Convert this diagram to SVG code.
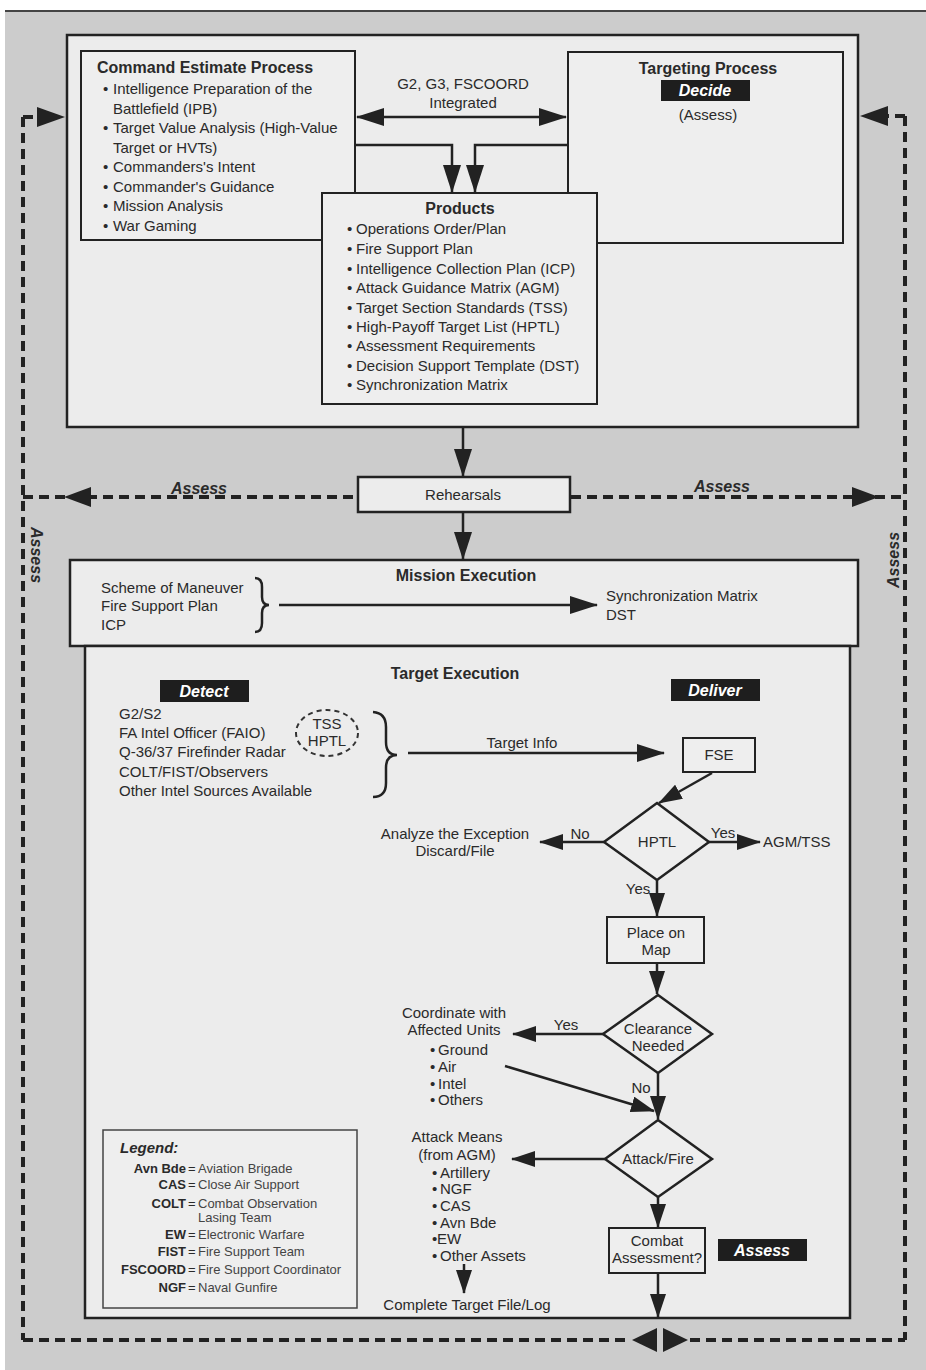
<svg xmlns="http://www.w3.org/2000/svg" width="926" height="1370" viewBox="0 0 926 1370">
<style>
text{font-family:"Liberation Sans",Arial,sans-serif;fill:#2a2a2a;font-size:15px}
.t{font-weight:bold;font-size:16px}
.c{text-anchor:middle}
.inv{fill:#fff;font-weight:bold;font-style:italic;font-size:16px;text-anchor:middle}
.as{font-weight:bold;font-style:italic;font-size:16px;text-anchor:middle}
.box{fill:#ececec;stroke:#222;stroke-width:2.5}
.ibox{fill:#eeeeee;stroke:#222;stroke-width:2}
.blk{fill:#1e1e1e}
.ln{fill:none;stroke:#222;stroke-width:2.5}
.dash{fill:none;stroke:#222;stroke-width:4;stroke-dasharray:10 6}
.lg{font-size:13px}
.lgb{font-size:13px;font-weight:bold;text-anchor:end}
.lgd{font-size:13px;fill:#444}
</style>
<defs>
<marker id="big" viewBox="0 0 28 18" refX="27" refY="9" markerWidth="28" markerHeight="18" markerUnits="userSpaceOnUse" orient="auto-start-reverse"><path d="M0,0 L28,9 L0,18 z" fill="#222"/></marker>
<marker id="med" viewBox="0 0 24 16" refX="23" refY="8" markerWidth="24" markerHeight="16" markerUnits="userSpaceOnUse" orient="auto-start-reverse"><path d="M0,0 L24,8 L0,16 z" fill="#222"/></marker>
<marker id="sm" viewBox="0 0 18 14" refX="17" refY="7" markerWidth="18" markerHeight="14" markerUnits="userSpaceOnUse" orient="auto-start-reverse"><path d="M0,0 L18,7 L0,14 z" fill="#222"/></marker>
</defs>

<rect x="0" y="0" width="926" height="1370" fill="#ffffff"/>
<rect x="5" y="11" width="921" height="1359" fill="#cccccc"/>
<line x1="5" y1="11" x2="926" y2="11" stroke="#444" stroke-width="2"/>

<!-- outer planning box -->
<g id="planning">
<rect class="box" x="67" y="35" width="791" height="392" stroke-width="3"/>
</g>

<g id="command-estimate">
<rect class="ibox" x="81" y="51" width="274" height="189"/>
<text class="t" x="97" y="73">Command Estimate Process</text>
<text x="103" y="94">•</text><text x="113" y="94">Intelligence Preparation of the</text>
<text x="113" y="114">Battlefield (IPB)</text>
<text x="103" y="133">•</text><text x="113" y="133">Target Value Analysis (High-Value</text>
<text x="113" y="153">Target or HVTs)</text>
<text x="103" y="172">•</text><text x="113" y="172">Commanders's Intent</text>
<text x="103" y="192">•</text><text x="113" y="192">Commander's Guidance</text>
<text x="103" y="211">•</text><text x="113" y="211">Mission Analysis</text>
<text x="103" y="231">•</text><text x="113" y="231">War Gaming</text>
</g>

<g id="targeting-process">
<rect class="ibox" x="568" y="52" width="275" height="191"/>
<text class="t c" x="708" y="74">Targeting Process</text>
<rect class="blk" x="661" y="80" width="89" height="21"/>
<text class="inv" x="705" y="96">Decide</text>
<text class="c" x="708" y="120">(Assess)</text>
</g>

<g id="products">
<rect class="ibox" x="322" y="193" width="275" height="211"/>
<text class="t c" x="460" y="214">Products</text>
<text x="347" y="234">•</text><text x="356" y="234">Operations Order/Plan</text>
<text x="347" y="254">•</text><text x="356" y="254">Fire Support Plan</text>
<text x="347" y="274">•</text><text x="356" y="274">Intelligence Collection Plan (ICP)</text>
<text x="347" y="293">•</text><text x="356" y="293">Attack Guidance Matrix (AGM)</text>
<text x="347" y="313">•</text><text x="356" y="313">Target Section Standards (TSS)</text>
<text x="347" y="332">•</text><text x="356" y="332">High-Payoff Target List (HPTL)</text>
<text x="347" y="351">•</text><text x="356" y="351">Assessment Requirements</text>
<text x="347" y="371">•</text><text x="356" y="371">Decision Support Template (DST)</text>
<text x="347" y="390">•</text><text x="356" y="390">Synchronization Matrix</text>
</g>

<g id="integration-label">
<text class="c" x="463" y="89">G2, G3, FSCOORD</text>
<text class="c" x="463" y="108">Integrated</text>
</g>

<g id="rehearsals">
<rect class="box" x="358" y="477" width="212" height="35" stroke-width="3"/>
<text class="c" x="463" y="500" font-size="16">Rehearsals</text>
</g>

<g id="mission-execution">
<rect class="box" x="70" y="560" width="788" height="86" stroke-width="3"/>
<text class="t c" x="466" y="581">Mission Execution</text>
<text x="101" y="593">Scheme of Maneuver</text>
<text x="101" y="611">Fire Support Plan</text>
<text x="101" y="630">ICP</text>
<text x="606" y="601">Synchronization Matrix</text>
<text x="606" y="620">DST</text>
</g>

<g id="target-execution">
<rect class="box" x="85" y="646" width="765" height="672" stroke-width="3"/>
<text class="t c" x="455" y="679">Target Execution</text>
<rect class="blk" x="160" y="680" width="89" height="22"/>
<text class="inv" x="204" y="697">Detect</text>
<rect class="blk" x="671" y="679" width="89" height="22"/>
<text class="inv" x="715" y="696">Deliver</text>
<text x="119" y="719">G2/S2</text>
<text x="119" y="738">FA Intel Officer (FAIO)</text>
<text x="119" y="757">Q-36/37 Firefinder Radar</text>
<text x="119" y="777">COLT/FIST/Observers</text>
<text x="119" y="796">Other Intel Sources Available</text>
</g>

<g id="tss-hptl">
<ellipse cx="327" cy="733" rx="31" ry="23" fill="none" stroke="#333" stroke-width="2" stroke-dasharray="5 4"/>
<text class="c" x="327" y="729">TSS</text>
<text class="c" x="327" y="746">HPTL</text>
</g>

<g id="fse">
<rect class="ibox" x="683" y="738" width="72" height="34"/>
<text class="c" x="719" y="760">FSE</text>
</g>

<g id="hptl-decision">
<polygon points="657,803 709,842 657,880 604,842" fill="#eeeeee" stroke="#222" stroke-width="2.5"/>
<text class="c" x="657" y="847">HPTL</text>
</g>

<g id="analyze-exception">
<text class="c" x="455" y="839">Analyze the Exception</text>
<text class="c" x="455" y="856">Discard/File</text>
</g>

<g id="agm-tss"><text x="763" y="847">AGM/TSS</text></g>

<g id="place-on-map">
<rect class="ibox" x="607" y="917" width="97" height="46"/>
<text class="c" x="656" y="938">Place on</text>
<text class="c" x="656" y="955">Map</text>
</g>

<g id="clearance-decision">
<polygon points="658,995 712,1034 658,1073 603,1034" fill="#eeeeee" stroke="#222" stroke-width="2.5"/>
<text class="c" x="658" y="1034">Clearance</text>
<text class="c" x="658" y="1051">Needed</text>
</g>

<g id="coordinate">
<text class="c" x="454" y="1018">Coordinate with</text>
<text class="c" x="454" y="1035">Affected Units</text>
<text x="430" y="1055">•</text><text x="438" y="1055">Ground</text>
<text x="430" y="1072">•</text><text x="438" y="1072">Air</text>
<text x="430" y="1089">•</text><text x="438" y="1089">Intel</text>
<text x="430" y="1105">•</text><text x="438" y="1105">Others</text>
</g>

<g id="attack-decision">
<polygon points="658,1120 712,1159 658,1197 605,1159" fill="#eeeeee" stroke="#222" stroke-width="2.5"/>
<text class="c" x="658" y="1164">Attack/Fire</text>
</g>

<g id="attack-means">
<text class="c" x="457" y="1142">Attack Means</text>
<text class="c" x="457" y="1160">(from AGM)</text>
<text x="432" y="1178">•</text><text x="440" y="1178">Artillery</text>
<text x="432" y="1194">•</text><text x="440" y="1194">NGF</text>
<text x="432" y="1211">•</text><text x="440" y="1211">CAS</text>
<text x="432" y="1228">•</text><text x="440" y="1228">Avn Bde</text>
<text x="432" y="1244">•</text><text x="437" y="1244">EW</text>
<text x="432" y="1261">•</text><text x="440" y="1261">Other Assets</text>
</g>

<g id="complete-target"><text class="c" x="467" y="1310">Complete Target File/Log</text></g>

<g id="combat-assessment">
<rect class="ibox" x="609" y="1228" width="96" height="45"/>
<text class="c" x="657" y="1246">Combat</text>
<text class="c" x="657" y="1263">Assessment?</text>
<rect class="blk" x="718" y="1239" width="89" height="22"/>
<text class="inv" x="762" y="1256">Assess</text>
</g>

<g id="legend">
<rect x="103" y="1130" width="254" height="178" fill="#eeeeee" stroke="#444" stroke-width="1.5"/>
<text x="120" y="1153" font-weight="bold" font-style="italic">Legend:</text>
<text class="lgb" x="186" y="1173">Avn Bde</text><text class="lg" x="188" y="1173">=</text><text class="lgd" x="198" y="1173">Aviation Brigade</text>
<text class="lgb" x="186" y="1189">CAS</text><text class="lg" x="188" y="1189">=</text><text class="lgd" x="198" y="1189">Close Air Support</text>
<text class="lgb" x="186" y="1208">COLT</text><text class="lg" x="188" y="1208">=</text><text class="lgd" x="198" y="1208">Combat Observation</text>
<text class="lgd" x="198" y="1222">Lasing Team</text>
<text class="lgb" x="186" y="1239">EW</text><text class="lg" x="188" y="1239">=</text><text class="lgd" x="198" y="1239">Electronic Warfare</text>
<text class="lgb" x="186" y="1256">FIST</text><text class="lg" x="188" y="1256">=</text><text class="lgd" x="198" y="1256">Fire Support Team</text>
<text class="lgb" x="186" y="1274">FSCOORD</text><text class="lg" x="188" y="1274">=</text><text class="lgd" x="198" y="1274">Fire Support Coordinator</text>
<text class="lgb" x="186" y="1292">NGF</text><text class="lg" x="188" y="1292">=</text><text class="lgd" x="198" y="1292">Naval Gunfire</text>
</g>

<g id="connectors">
<!-- planning -->
<line class="ln" x1="357" y1="117" x2="566" y2="117" stroke-width="3" marker-start="url(#big)" marker-end="url(#big)"/>
<path class="ln" d="M355,145 H452 V192" stroke-width="3" marker-end="url(#big)"/>
<path class="ln" d="M568,145 H475 V192" stroke-width="3" marker-end="url(#big)"/>
<line class="ln" x1="463" y1="428" x2="463" y2="476" marker-end="url(#big)"/>
<line class="ln" x1="463" y1="513" x2="463" y2="559" marker-end="url(#big)"/>
<!-- mission -->
<path class="ln" d="M255,578 Q262,578 262,587 L262,597 Q262,605 269,605 Q262,605 262,613 L262,623 Q262,632 255,632"/>
<line class="ln" x1="279" y1="605" x2="597" y2="605" marker-end="url(#big)"/>
<!-- target execution -->
<path class="ln" stroke-width="3" d="M373,712 Q386,713 386,727 L386,742 Q386,755 397,755 Q386,755 386,768 L386,783 Q386,797 373,797"/>
<line class="ln" x1="408" y1="753" x2="664" y2="753" marker-end="url(#big)"/>
<text class="c" x="522" y="748">Target Info</text>
<line class="ln" x1="712" y1="773" x2="659" y2="803" marker-end="url(#med)"/>
<line class="ln" x1="604" y1="842" x2="540" y2="842" marker-end="url(#med)"/>
<text class="c" x="580" y="839">No</text>
<line class="ln" x1="709" y1="842" x2="760" y2="842" marker-end="url(#med)"/>
<text class="c" x="723" y="838">Yes</text>
<line class="ln" x1="657" y1="880" x2="657" y2="916" marker-end="url(#med)"/>
<text class="c" x="638" y="894">Yes</text>
<line class="ln" x1="657" y1="963" x2="657" y2="994" marker-end="url(#med)"/>
<line class="ln" x1="603" y1="1034" x2="513" y2="1034" marker-end="url(#med)"/>
<text class="c" x="566" y="1030">Yes</text>
<line class="ln" x1="505" y1="1066" x2="654" y2="1111" stroke-width="2" marker-end="url(#med)"/>
<line class="ln" x1="658" y1="1073" x2="658" y2="1119" marker-end="url(#med)"/>
<text class="c" x="641" y="1093">No</text>
<line class="ln" x1="605" y1="1159" x2="512" y2="1159" marker-end="url(#med)"/>
<line class="ln" x1="464" y1="1264" x2="464" y2="1293" marker-end="url(#med)"/>
<line class="ln" x1="658" y1="1197" x2="658" y2="1227" marker-end="url(#med)"/>
<line class="ln" x1="658" y1="1273" x2="658" y2="1317" marker-end="url(#med)"/>
<!-- assess feedback loop -->
<line class="dash" x1="23" y1="117" x2="23" y2="1340"/>
<line class="dash" x1="905" y1="116" x2="905" y2="1340"/>
<line class="dash" x1="23" y1="117" x2="40" y2="117"/>
<polygon points="37,107 65,117 37,127" fill="#222"/>
<line class="dash" x1="905" y1="116" x2="886" y2="116"/>
<polygon points="888,106 860,116 888,126" fill="#222"/>
<line class="dash" x1="23" y1="497" x2="357" y2="497"/>
<polygon points="91,487 64,497 91,507" fill="#222"/>
<line class="dash" x1="571" y1="497" x2="905" y2="497"/>
<polygon points="852,487 879,497 852,507" fill="#222"/>
<text class="as" x="199" y="494">Assess</text>
<text class="as" x="722" y="492">Assess</text>
<text class="as" transform="translate(31,555) rotate(90)" x="0" y="0">Assess</text>
<text class="as" transform="translate(899,560) rotate(-90)" x="0" y="0">Assess</text>
<line class="dash" x1="23" y1="1340" x2="630" y2="1340"/>
<line class="dash" x1="690" y1="1340" x2="905" y2="1340"/>
<polygon points="657,1328 632,1340 657,1352" fill="#222"/>
<polygon points="663,1328 688,1340 663,1352" fill="#222"/>
</g>
</svg>
